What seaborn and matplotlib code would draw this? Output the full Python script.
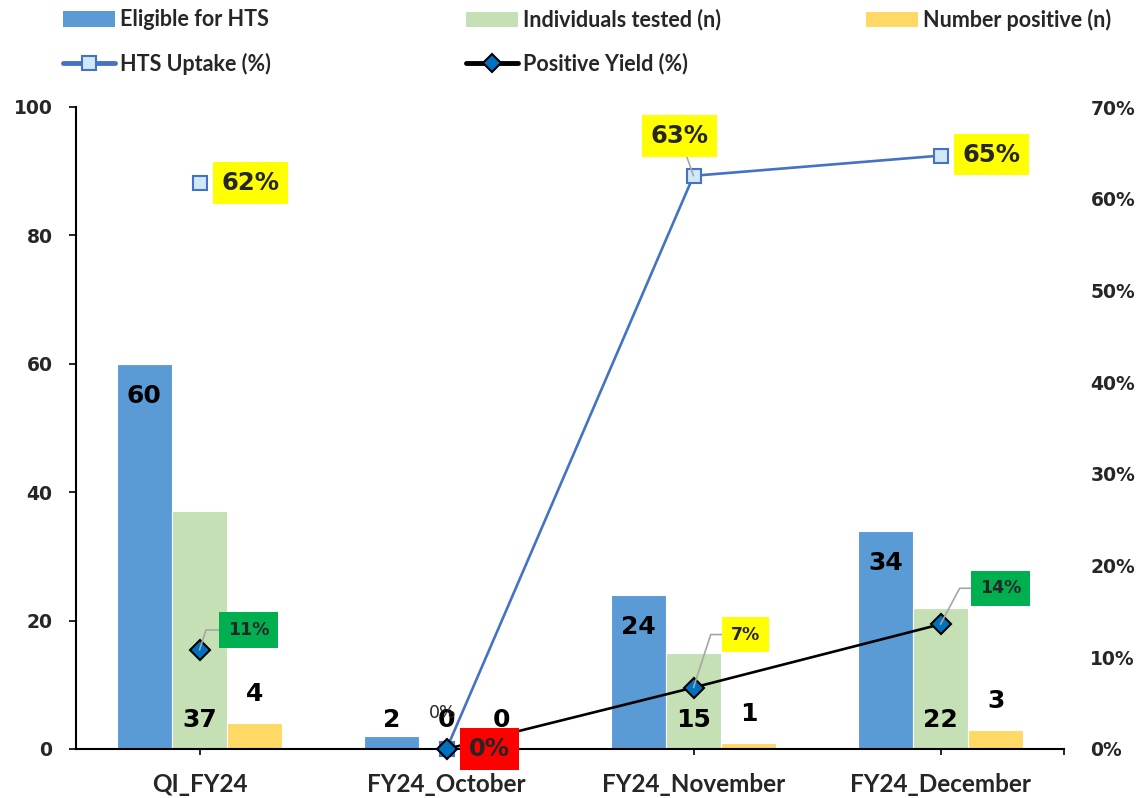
import numpy as np
import pandas as pd
import matplotlib
matplotlib.use("Agg")
import matplotlib.pyplot as plt
from matplotlib.lines import Line2D
from matplotlib.patches import Patch
import seaborn as sns

# ---- data ----
categories = ["QI_FY24", "FY24_October", "FY24_November", "FY24_December"]
bar_series = ["Eligible for HTS", "Individuals tested (n)", "Number positive (n)"]
eligible = [60, 2, 24, 34]
tested = [37, 0, 15, 22]
positive = [4, 0, 1, 3]
uptake = [0.617, 0.0, 0.625, 0.647]          # HTS Uptake (%)
pos_yield = [0.108, 0.0, 0.067, 0.136]       # Positive Yield (%)
uptake_labels = ["62%", "0%", "63%", "65%"]
yield_labels = ["11%", "0%", "7%", "14%"]
line_segment = ["quarter", "month", "month", "month"]

# ---- style ----
W, H = 1144, 798
PT = 0.72  # pixels -> points at 100 dpi
BAR_COLORS = ["#5B9BD5", "#C5E0B4", "#FFD966"]
UPTAKE_COLOR = "#4472C4"
NUM_FONT = "DejaVu Sans"
TXT_FONT = "Lato"

sns.set_theme(style="white")
plt.rcParams["font.family"] = [NUM_FONT]

fig = plt.figure(figsize=(W / 100, H / 100), dpi=100)
ax = fig.add_axes([76 / W, 1 - 749 / H, (1064 - 76) / W, (749 - 107) / H])

bars = pd.DataFrame({
    "category": categories * 3,
    "series": np.repeat(bar_series, len(categories)),
    "value": eligible + tested + positive,
})
sns.barplot(data=bars, x="category", y="value", hue="series",
            order=categories, hue_order=bar_series, palette=BAR_COLORS,
            saturation=1, width=0.67, errorbar=None, legend=False,
            edgecolor="white", linewidth=0.8, ax=ax)
ax.set_xlim(-0.5, 3.5)
ax.set_ylim(0, 100)

# value labels: inside end / inside base / outside end
for container, kind in zip(ax.containers, ["end", "base", "above"]):
    for rect in container:
        h = rect.get_height()
        x = rect.get_x() + rect.get_width() / 2
        if kind == "end" and h >= 10:
            y, dy = h, -32
        elif kind == "above":
            y, dy = h, 29
        else:
            y, dy = 0, 29
        ax.annotate(f"{h:g}", (x, y), xytext=(0, dy * PT), textcoords="offset points",
                    ha="center", va="center", fontsize=18, fontweight="bold",
                    color="black", zorder=5)

# ---- percentage lines on the secondary axis ----
ax2 = ax.twinx()
lines = pd.DataFrame({"pos": np.arange(len(categories)), "uptake": uptake,
                      "yield": pos_yield, "segment": line_segment})
sns.lineplot(data=lines, x="pos", y="uptake", units="segment", estimator=None,
             sort=False, color=UPTAKE_COLOR, lw=1.9, marker="s", ms=9.5,
             mfc="#D0E8F8", mec=UPTAKE_COLOR, mew=1.5, clip_on=False,
             legend=False, ax=ax2)
sns.lineplot(data=lines, x="pos", y="yield", units="segment", estimator=None,
             sort=False, color="black", lw=1.9, marker="D", ms=10,
             mfc="#0070C0", mec="black", mew=1.5, clip_on=False,
             legend=False, ax=ax2)
ax2.set_ylim(0, 0.7)

leader = dict(arrowstyle="-", color="#A6A6A6", lw=1.2, shrinkA=0, shrinkB=0)

# uptake labels (offsets in px, y up)
uptake_style = [((51, 0), "#FFFF00", None),
                ((43, 0), "#FF0000", None),
                ((-14, 40), "#FFFF00", "arc3"),
                ((51, 1), "#FFFF00", None)]
for i, (val, lab) in enumerate(zip(uptake, uptake_labels)):
    (dx, dy), face, conn = uptake_style[i]
    kw = {}
    if conn:
        kw["arrowprops"] = dict(leader, connectionstyle=conn)
    ax2.annotate(lab, (i, val), xytext=(dx * PT, dy * PT), textcoords="offset points",
                 ha="center", va="center", fontsize=17.5, fontweight="bold",
                 bbox=dict(boxstyle="square,pad=0.36", fc=face, ec="none"),
                 zorder=6, annotation_clip=False, **kw)

# positive-yield labels
yield_style = [((49, 20), "#00B050", 72),
               ((-4, 36), None, None),
               ((52, 53), "#FFFF00", 72),
               ((60, 36), "#00B050", 62)]
for i, (val, lab) in enumerate(zip(pos_yield, yield_labels)):
    (dx, dy), face, ang = yield_style[i]
    kw = {}
    if face is not None:
        kw["bbox"] = dict(boxstyle="square,pad=0.5", fc=face, ec="none")
        kw["arrowprops"] = dict(leader, connectionstyle=f"angle,angleA=0,angleB={ang},rad=0")
        weight = "bold"
    else:
        weight = "normal"
    ax2.annotate(lab, (i, val), xytext=(dx * PT, dy * PT), textcoords="offset points",
                 ha="center", va="center", fontsize=12.5, fontweight=weight,
                 zorder=6, annotation_clip=False, **kw)

# ---- axes styling ----
for s in ["top", "right"]:
    ax.spines[s].set_visible(False)
for s in ax2.spines.values():
    s.set_visible(False)
for s in ["left", "bottom"]:
    ax.spines[s].set_color("black")
    ax.spines[s].set_linewidth(1.5)

ax.set_yticks(range(0, 101, 20))
ax.set_yticklabels([str(t) for t in range(0, 101, 20)], fontsize=13.5, fontweight="bold")
ax.tick_params(axis="y", left=True, length=5, width=1.2, pad=12, color="black")

ax.set_xticks(range(len(categories)))
ax.set_xticklabels(categories, fontsize=17.5, fontweight="bold", family=TXT_FONT)
ax.set_xticks([3.5], minor=True)
ax.tick_params(axis="x", which="both", bottom=True, length=4, width=1.2, pad=13, color="black")

pct_ticks = np.round(np.arange(0, 0.71, 0.1), 2)
ax2.set_yticks(pct_ticks)
ax2.set_yticklabels([f"{t:.0%}" for t in pct_ticks], fontsize=13.5, fontweight="bold")
ax2.tick_params(axis="y", right=False, length=0, pad=19)

for a in (ax, ax2):
    a.set_xlabel("")
    a.set_ylabel("")

# ---- legend: one entry per slot, two rows ----
entries = [
    (Patch(fc=BAR_COLORS[0], ec="none"), bar_series[0], 63, 20),
    (Patch(fc=BAR_COLORS[1], ec="none"), bar_series[1], 466, 20),
    (Patch(fc=BAR_COLORS[2], ec="none"), bar_series[2], 866, 20),
    (Line2D([], [], color=UPTAKE_COLOR, lw=3.5, marker="s", ms=9.5, mfc="#D0E8F8",
            mec=UPTAKE_COLOR, mew=1.5), "HTS Uptake (%)", 63, 64),
    (Line2D([], [], color="black", lw=3.5, marker="D", ms=9, mfc="#0070C0",
            mec="black", mew=1.5), "Positive Yield (%)", 466, 64),
]
for handle, label, px, py in entries:
    leg = fig.legend([handle], [label], loc="center left",
                     bbox_to_anchor=(px / W, 1 - py / H), frameon=False,
                     borderpad=0, borderaxespad=0, handlelength=2.4,
                     handleheight=0.7, handletextpad=0.23,
                     prop=dict(family=TXT_FONT, weight="bold", size=15.5))

fig.savefig("out.png", dpi=100)
